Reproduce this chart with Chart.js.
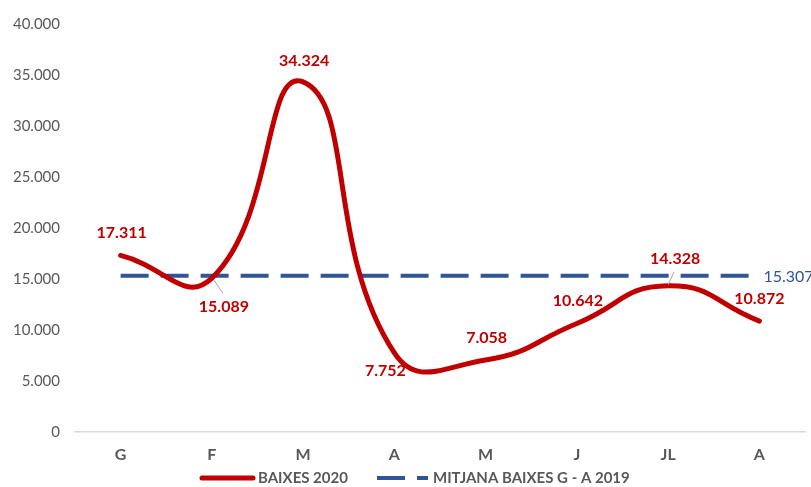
<!DOCTYPE html>
<html>
<head>
<meta charset="utf-8">
<script src="https://cdn.jsdelivr.net/npm/chart.js@4"></script>
<style>
html,body{margin:0;padding:0;background:#fff;}
#wrap{width:811px;height:487px;position:relative;}
</style>
</head>
<body>
<div id="wrap"><canvas id="c"></canvas></div>
<script>
const categories = ['G', 'F', 'M', 'A', 'M', 'J', 'JL', 'A'];
const baixes2020 = [17311, 15089, 34324, 7752, 7058, 10642, 14328, 10872];
const mitjana2019 = [15307, 15307, 15307, 15307, 15307, 15307, 15307, 15307];
const seriesNames = ['BAIXES 2020', 'MITJANA BAIXES G - A 2019'];
const yTicks = { min: 0, max: 40000, step: 5000 };

// label placement (pixel offsets from each point) and leader lines
const labelOffsets = [[1,-23],[12,29],[1,-21],[-9,18],[1,-22],[1,-23],[7,-27],[0,-22]];
const leaderLines = { 1: [[2,2],[11,15]], 6: [[0,-1],[6,-14]] };

const RED = '#C00000';
const BLUE = '#2F5597';
const GRAY = '#595959';
const FONT = 'Lato, "Open Sans", sans-serif';

function fmt(v) {
  return String(v).replace(/\B(?=(\d{3})+(?!\d))/g, '.');
}

const labelPlugin = {
  id: 'labels',
  afterDatasetsDraw(chart) {
    const ctx = chart.ctx;
    const meta = chart.getDatasetMeta(0);
    ctx.save();
    ctx.strokeStyle = '#A6A6A6';
    ctx.lineWidth = 1;
    Object.keys(leaderLines).forEach(k => {
      const p = meta.data[k];
      const l = leaderLines[k];
      ctx.beginPath();
      ctx.moveTo(p.x + l[0][0], p.y + l[0][1]);
      ctx.lineTo(p.x + l[1][0], p.y + l[1][1]);
      ctx.stroke();
    });
    ctx.font = 'bold 16px ' + FONT;
    ctx.fillStyle = RED;
    ctx.textAlign = 'center';
    ctx.textBaseline = 'middle';
    meta.data.forEach((p, i) => {
      const o = labelOffsets[i];
      ctx.fillText(fmt(chart.data.datasets[0].data[i]), p.x + o[0], p.y + o[1]);
    });
    const m2 = chart.getDatasetMeta(1);
    const last = m2.data[m2.data.length - 1];
    ctx.font = '16px ' + FONT;
    ctx.fillStyle = BLUE;
    ctx.textAlign = 'left';
    ctx.fillText(fmt(chart.data.datasets[1].data[m2.data.length - 1]), last.x + 4, last.y + 1);
    ctx.restore();
  },
  afterDraw(chart) {
    const ctx = chart.ctx;
    ctx.save();
    const y = 478;
    const items = [
      { x: 202, ds: chart.data.datasets[0] },
      { x: 377, ds: chart.data.datasets[1] }
    ];
    ctx.font = 'bold 15px ' + FONT;
    ctx.fillStyle = GRAY;
    ctx.textBaseline = 'middle';
    items.forEach(it => {
      ctx.beginPath();
      ctx.strokeStyle = it.ds.borderColor;
      ctx.lineWidth = it.ds.borderWidth;
      ctx.setLineDash(it.ds.borderDash || []);
      ctx.lineCap = it.ds.borderDash ? 'butt' : 'round';
      ctx.moveTo(it.x, y);
      ctx.lineTo(it.x + 51, y);
      ctx.stroke();
      ctx.setLineDash([]);
      ctx.fillText(it.ds.label, it.x + 56, y);
    });
    ctx.restore();
  }
};

new Chart(document.getElementById('c'), {
  type: 'line',
  data: {
    labels: categories,
    datasets: [
      {
        label: seriesNames[0],
        data: baixes2020,
        borderColor: RED,
        backgroundColor: RED,
        borderWidth: 5,
        pointRadius: 0,
        tension: 0.5,
        borderCapStyle: 'round',
        fill: false
      },
      {
        label: seriesNames[1],
        data: mitjana2019,
        borderColor: BLUE,
        backgroundColor: BLUE,
        borderWidth: 4,
        borderDash: [28, 12],
        pointRadius: 0,
        tension: 0,
        fill: false
      }
    ]
  },
  options: {
    responsive: true,
    maintainAspectRatio: false,
    animation: false,
    layout: { padding: { top: 22, right: 6, bottom: 20, left: 0 } },
    plugins: { legend: { display: false }, tooltip: { enabled: false } },
    scales: {
      x: {
        offset: true,
        grid: { display: false, drawTicks: false },
        border: { display: true, color: '#D9D9D9', width: 1.5 },
        ticks: { color: GRAY, font: { family: FONT, size: 16, weight: 'bold' }, padding: 13 },
        afterFit(s) { s.height = 35; }
      },
      y: {
        min: yTicks.min,
        max: yTicks.max,
        grid: { display: false, drawTicks: false },
        border: { display: false },
        ticks: {
          stepSize: yTicks.step,
          color: GRAY,
          font: { family: FONT, size: 15 },
          padding: 15,
          callback: v => fmt(v)
        },
        afterFit(s) { s.width = 75; }
      }
    }
  },
  plugins: [labelPlugin]
});
</script>
</body>
</html>
